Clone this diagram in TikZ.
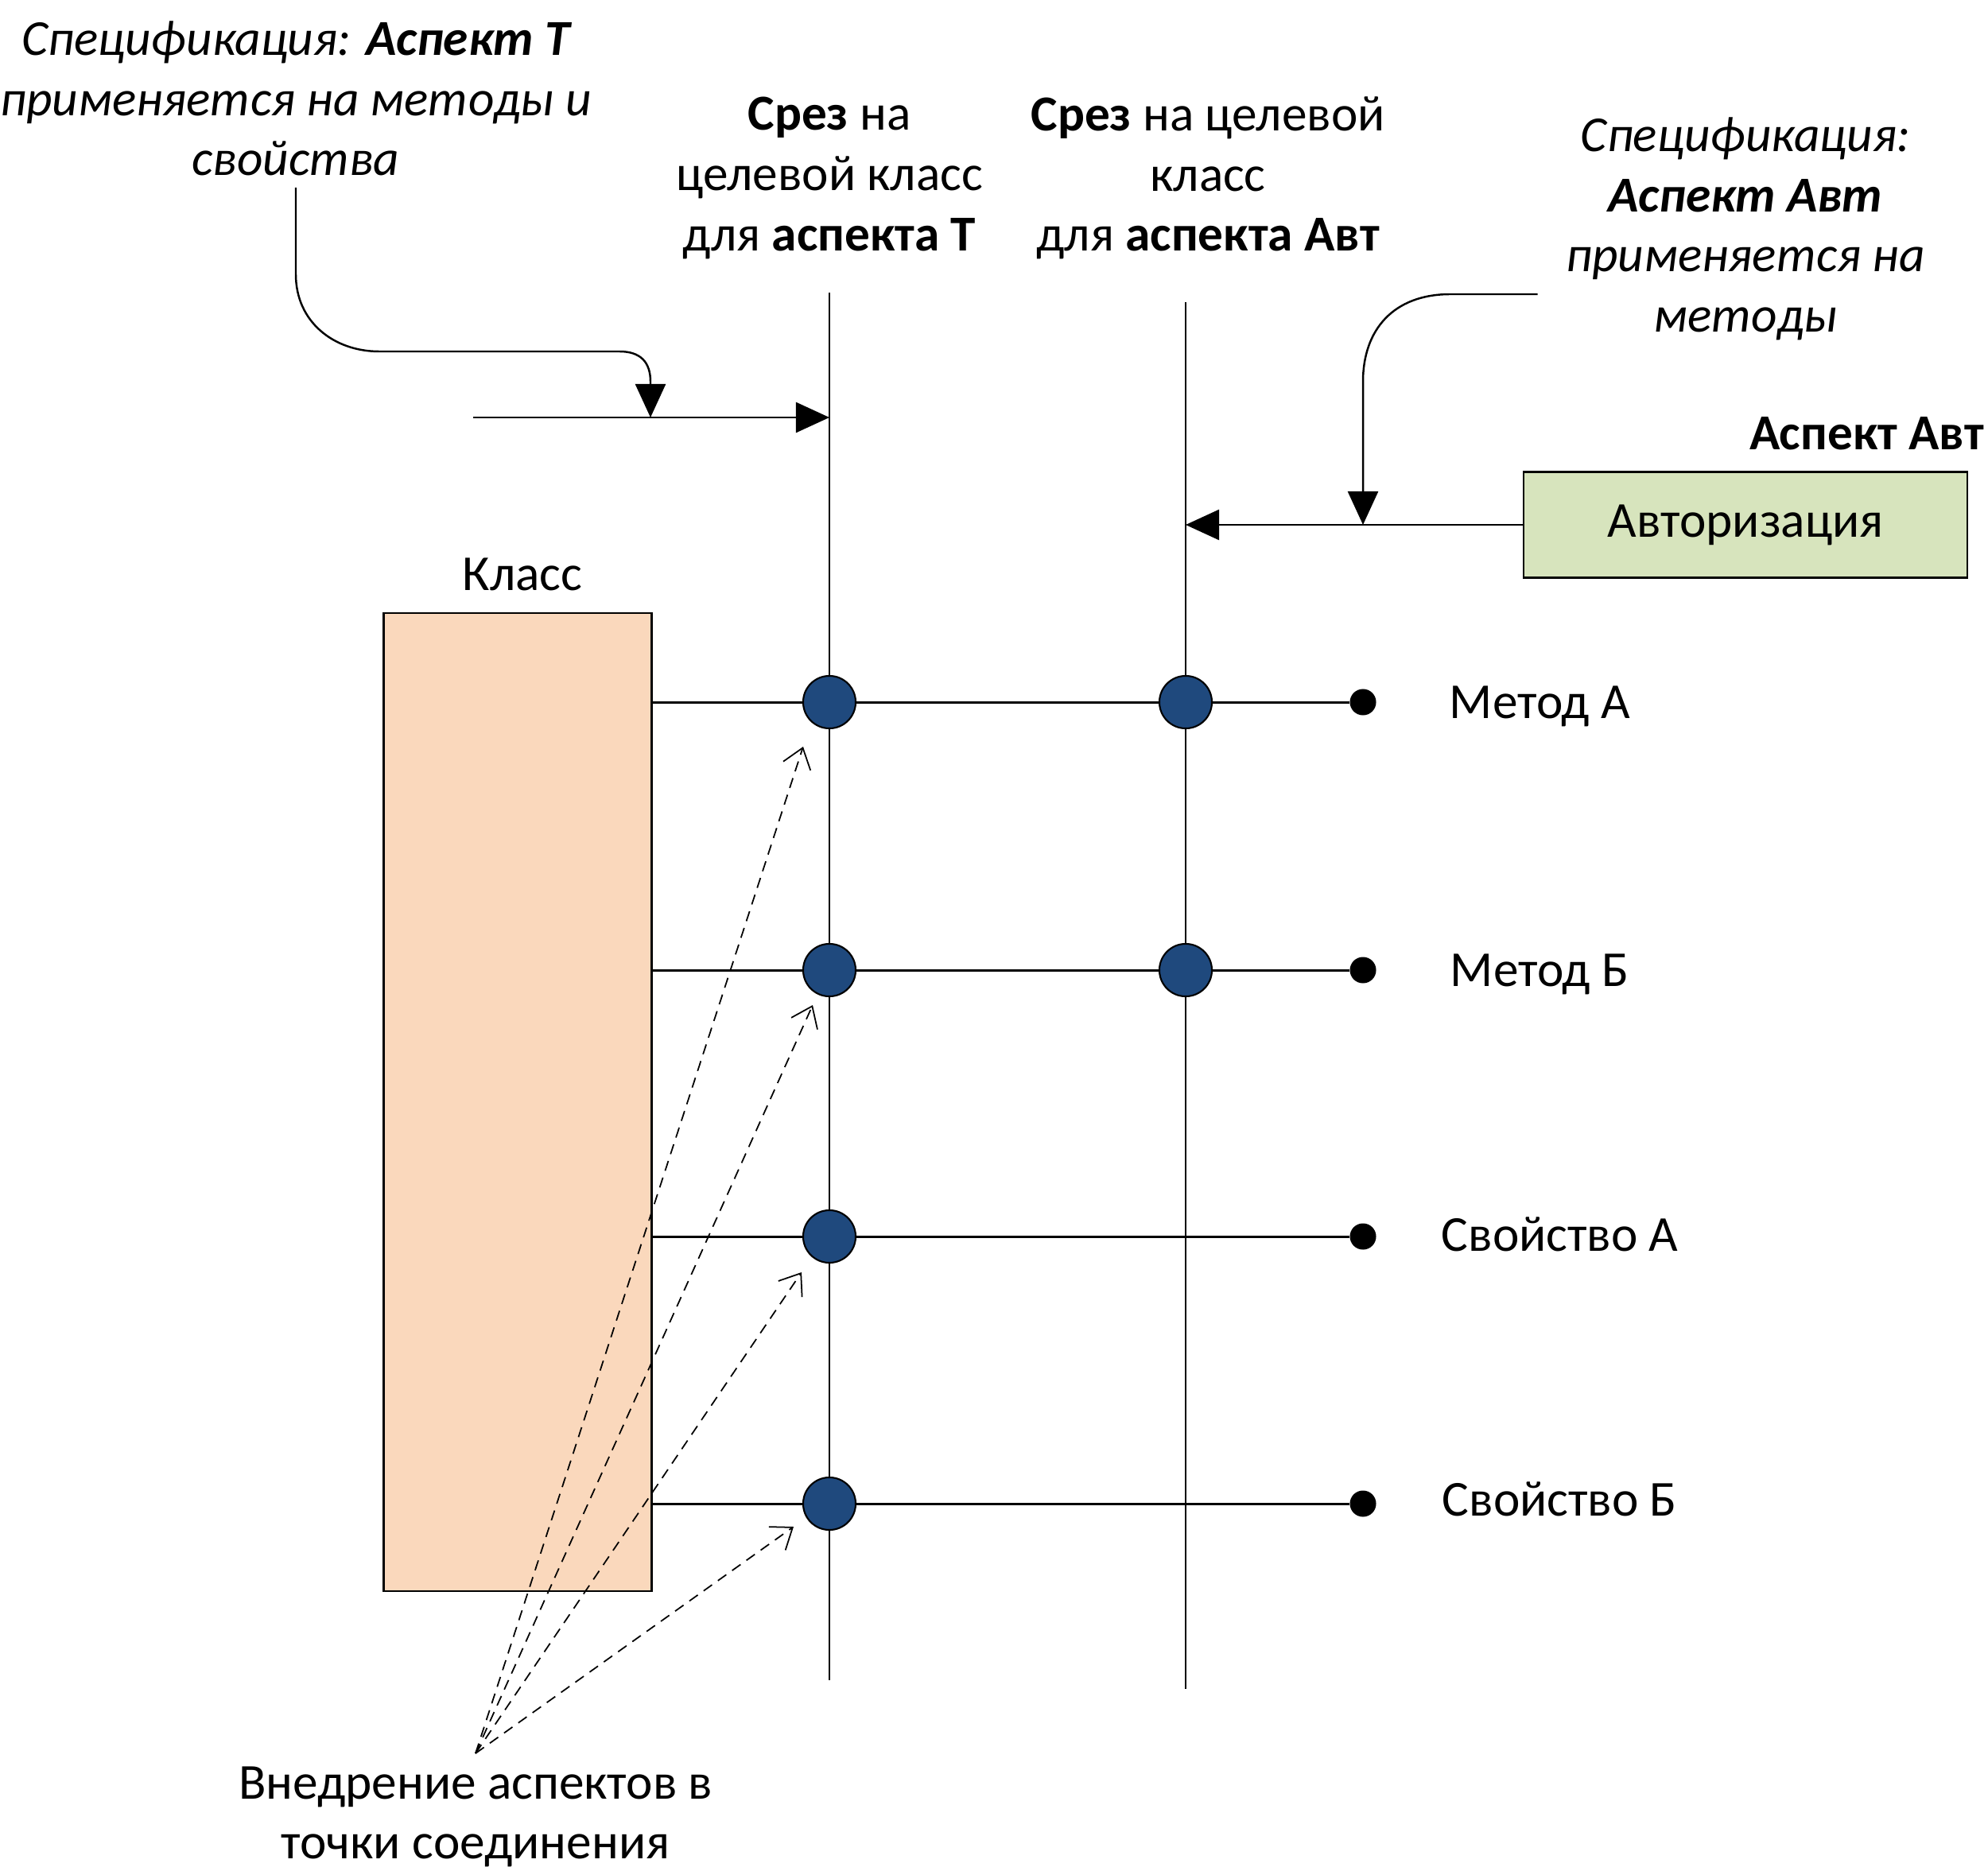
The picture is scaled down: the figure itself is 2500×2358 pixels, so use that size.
\documentclass[tikz,border=0pt]{standalone}
\usepackage{fontspec}
\setmainfont{Carlito}
\usetikzlibrary{positioning,arrows.meta}
\definecolor{classfill}{HTML}{FAD8BC}
\definecolor{aspectfill}{HTML}{D7E4BD}
\definecolor{jpblue}{HTML}{1F497D}

\begin{document}
\begin{tikzpicture}[
    x=0.01cm, y=-0.01cm,
    every node/.style={font=\fontsize{18}{21.5}\selectfont, inner sep=0pt},
    line/.style={line width=0.7pt},
    rowline/.style={line width=0.85pt},
    spec/.style={font=\fontsize{18}{21.5}\selectfont\itshape, align=center},
    cut/.style={align=center},
    jpoint/.style={circle, draw=black, line width=0.6pt, fill=jpblue, minimum size=6.6mm},
    endpt/.style={circle, fill=black, minimum size=3.3mm},
    member/.style={anchor=west},
    tri/.style={-{Triangle[length=4.2mm,width=3.8mm]}},
    weave/.style={line width=0.5pt, dash pattern=on 1.3mm off 0.9mm,
      -{Straight Barb[length=2.4mm,width=3.6mm]}}
  ]
  \useasboundingbox (0,0) rectangle (2500,2358);

  % texts on top
  \node[spec] (specT) at (372,124) {
    Спецификация: \textbf{Аспект Т}\\
    применяется на методы и\\
    свойства
  };
  \node[cut] (cutTlbl) at (1043,224) {
    \textbf{Срез} на\\
    целевой класс\\
    для \textbf{аспекта Т}
  };
  \node[cut] (cutAlbl) at (1519,224) {
    \textbf{Срез} на целевой\\
    класс\\
    для \textbf{аспекта Авт}
  };
  \node[spec] (specA) at (2195,288) {
    Спецификация:\\
    \textbf{Аспект Авт}\\
    применяется на\\
    методы
  };

  % aspect box
  \node[draw, line width=0.7pt, fill=aspectfill, minimum width=5.58cm,
    minimum height=1.33cm] (auth) at (2195,660) {Авторизация};
  \node[font=\fontsize{18}{21.5}\selectfont\bfseries,
    above=2.6mm of auth.north east, anchor=south east, xshift=2mm] (authlbl) {Аспект Авт};

  % class
  \node[draw, line width=0.7pt, fill=classfill, minimum width=3.37cm,
    minimum height=12.29cm] (cls) at (651,1386) {};
  \node[above=2.6mm of cls, xshift=0.6mm] (clslbl) {Класс};

  % join points
  \coordinate (cutTtop) at (1043,368);
  \coordinate (cutTbot) at (1043,2113);
  \coordinate (cutAtop) at (1491,380);
  \coordinate (cutAbot) at (1491,2124);

  \node[jpoint] (t1) at (1043,883) {};
  \node[jpoint] (t2) at (1043,1220) {};
  \node[jpoint] (t3) at (1043,1555) {};
  \node[jpoint] (t4) at (1043,1891) {};
  \node[jpoint] (a1) at (1491,883) {};
  \node[jpoint] (a2) at (1491,1220) {};

  \node[endpt] (e1) at (1714,883) {};
  \node[endpt] (e2) at (1714,1220) {};
  \node[endpt] (e3) at (1714,1555) {};
  \node[endpt] (e4) at (1714,1891) {};

  \node[member, right=0.91cm of e1, yshift=-0.5mm] (m1) {Метод А};
  \node[member, right=0.92cm of e2, yshift=-0.5mm] (m2) {Метод Б};
  \node[member, right=0.81cm of e3, yshift=0.3mm] (p1) {Свойство А};
  \node[member, right=0.82cm of e4, yshift=0.6mm] (p2) {Свойство Б};

  \draw[line] (cutTtop) -- (t1) -- (t2) -- (t3) -- (t4) -- (cutTbot);
  \draw[line] (cutAtop) -- (a1) -- (a2) -- (cutAbot);

  \draw[rowline] (cls.east |- t1) -- (t1) -- (a1) -- (e1);
  \draw[rowline] (cls.east |- t2) -- (t2) -- (a2) -- (e2);
  \draw[rowline] (cls.east |- t3) -- (t3) -- (e3);
  \draw[rowline] (cls.east |- t4) -- (t4) -- (e4);

  % pointcuts
  \coordinate (srcT) at (595,525);
  \coordinate (hitT) at (818,525);
  \draw[line, tri] (srcT) -- (srcT -| cutTtop);
  \draw[line, tri] (372,236) -- (372,345)
    .. controls (372,405) and (420,442) .. (477,442) -- (779,442)
    .. controls (805,442) and (818,455) .. (818,480) -- (hitT);

  \coordinate (hitA) at (e1 |- auth.west);
  \draw[line, tri] (auth.west) -- (auth.west -| cutAtop);
  \draw[line, tri] ([shift={(-35,82)}]specA.west) -- (1824,370)
    .. controls (1752,370) and (1714,415) .. (1714,480) -- (hitA);

  % weaving
  \node[align=center] (weavelbl) at (598,2285) {
    Внедрение аспектов в\\
    точки соединения
  };
  \coordinate (wv) at (598,2205);
  \draw[weave] (wv) -- ([shift={(-33,56)}]t1.center);
  \draw[weave] (wv) -- ([shift={(-21,44)}]t2.center);
  \draw[weave] (wv) -- ([shift={(-35,45)}]t3.center);
  \draw[weave] (wv) -- ([shift={(-45,29)}]t4.center);
\end{tikzpicture}
\end{document}
